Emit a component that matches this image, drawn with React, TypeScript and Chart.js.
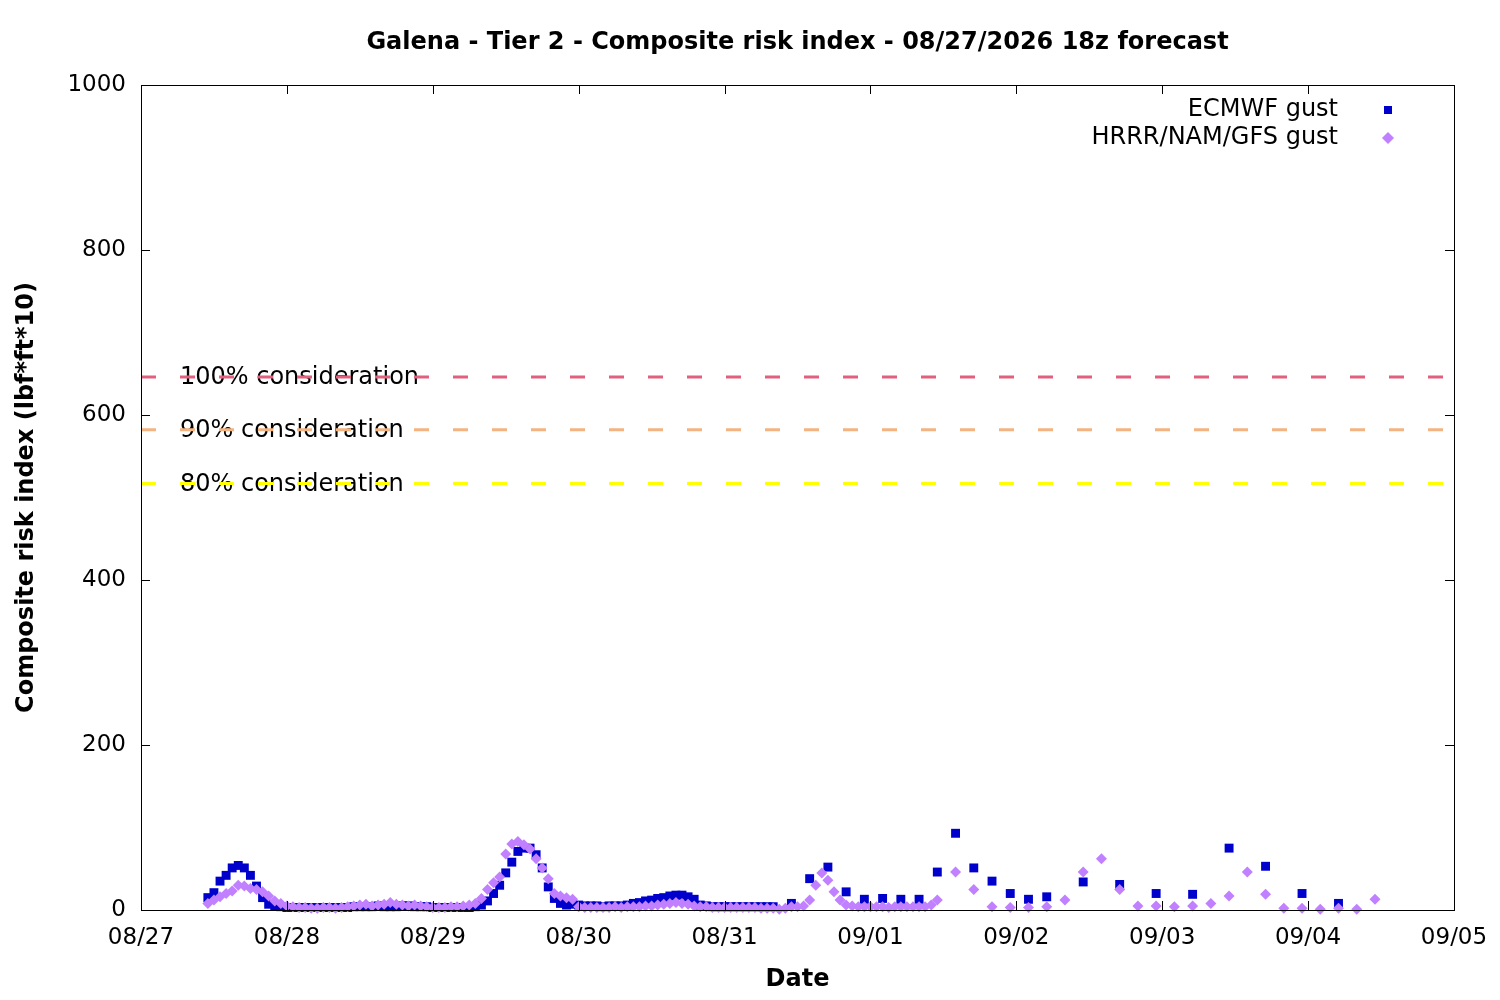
import { useEffect, useRef } from 'react'
import { Chart, registerables } from 'chart.js'

Chart.register(...registerables)

const chartTitle = 'Galena - Tier 2 - Composite risk index - 08/27/2026 18z forecast'
const xTitle = 'Date'
const yTitle = 'Composite risk index (lbf*ft*10)'

// x axis in hours after 08/27 00
const dayLabels = ['08/27', '08/28', '08/29', '08/30', '08/31', '09/01', '09/02', '09/03', '09/04', '09/05']

// ECMWF gust: hourly, then 3-hourly, then 6-hourly
const ecmwfHourlyStart = 11
const ecmwfHourly = [
  15, 21, 35, 42, 51, 54, 51, 42, 29, 15, 7, 5,
  4, 3, 3, 3, 3, 3, 3, 3, 3, 3, 3, 3, 4, 4, 4, 4, 5, 4, 4, 4, 5, 5, 4, 4, 4, 3, 3, 3, 3, 3, 3, 3, 4,
  6, 11, 20, 30, 45, 58, 71, 75, 75, 67, 51, 28, 14, 8, 6, 7, 6, 5,
  5, 5, 4, 5, 5, 5, 6, 8, 9, 11, 12, 14, 15, 17, 18, 18, 16, 13, 6, 5, 4, 4,
  4, 4, 4, 4, 4, 4, 4, 4, 4,
]
const ecmwf3hStart = 107
const ecmwf3h = [8, 38, 52, 22, 13, 14, 13, 13, 46, 93, 51, 35, 20, 13, 16]
const ecmwf6hStart = 155
const ecmwf6h = [34, 31, 20, 19, 75, 53, 20, 8]

// HRRR/NAM/GFS gust: hourly, then 3-hourly
const mesoHourlyStart = 11
const mesoHourly = [
  8, 12, 16, 20, 23, 30, 29, 26, 25, 22, 17, 11, 8, 5, 4,
  3, 3, 2, 2, 3, 3, 2, 3, 4, 5, 6, 7, 5, 6, 7, 9, 7, 6, 5, 6, 5, 4, 3, 3, 3, 4, 4, 5, 6, 8,
  14, 25, 33, 40, 68, 80, 83, 79, 74, 62, 51, 38, 20, 17, 15, 13, 4,
  3, 3, 3, 3, 3, 4, 3, 4, 4, 4, 5, 5, 6, 7, 8, 9, 8, 7, 5, 4, 4, 3, 3, 3, 3, 3, 3, 3, 3, 2, 2, 2,
  1, 2, 4, 4, 5, 12, 30, 45, 36, 22, 12, 6, 5,
  4, 4, 4, 4, 4, 3, 4, 4, 4, 4, 4, 4, 6, 12,
]
const meso3hStart = 134
const meso3h = [46, 25, 4, 3, 3, 4, 12, 46, 62, 25, 5, 5, 4, 5, 8, 17, 46, 19, 2, 2, 1, 2, 1, 13]

const thresholdLabels = ['100% consideration', '90% consideration', '80% consideration']
const thresholdValues = [646, 582, 517]
const thresholdColors = ['#e0607e', '#f4b482', '#ffff00']

const toPoints = (start: number, step: number, values: number[]) =>
  values.map((v, i) => ({ x: start + i * step, y: v }))

const FONT = 'DejaVu Sans'

const framePlugin = {
  id: 'gnuplotFrame',
  beforeDatasetsDraw(chart: any) {
    const { ctx, chartArea, scales } = chart
    ctx.save()
    ctx.fillStyle = '#000'
    ctx.font = `24px ${FONT}`
    ctx.textAlign = 'left'
    ctx.textBaseline = 'middle'
    thresholdLabels.forEach((label, i) => {
      ctx.fillText(label, chartArea.left + 39, scales.y.getPixelForValue(thresholdValues[i]) + 1)
    })
    ctx.restore()
  },
  afterDatasetsDraw(chart: any) {
    const { ctx, chartArea, scales } = chart
    const { left, right, top, bottom } = chartArea
    ctx.save()
    ctx.strokeStyle = '#000'
    ctx.lineWidth = 1
    ctx.strokeRect(left + 0.5, top + 0.5, right - left, bottom - top)
    const tick = 9
    ctx.beginPath()
    scales.x.ticks.forEach((t: any) => {
      const px = Math.round(scales.x.getPixelForValue(t.value)) + 0.5
      ctx.moveTo(px, bottom)
      ctx.lineTo(px, bottom - tick)
      ctx.moveTo(px, top)
      ctx.lineTo(px, top + tick)
    })
    scales.y.ticks.forEach((t: any) => {
      const py = Math.round(scales.y.getPixelForValue(t.value)) + 0.5
      ctx.moveTo(left, py)
      ctx.lineTo(left + tick, py)
      ctx.moveTo(right, py)
      ctx.lineTo(right - tick, py)
    })
    ctx.stroke()

    ctx.fillStyle = '#000'
    ctx.textBaseline = 'middle'
    ctx.textAlign = 'center'
    ctx.font = `bold 24px ${FONT}`
    ctx.fillText(chartTitle, (left + right) / 2, 43)
    ctx.fillText(xTitle, (left + right) / 2, 980)
    ctx.save()
    ctx.translate(27, (top + bottom) / 2)
    ctx.rotate(-Math.PI / 2)
    ctx.fillText(yTitle, 0, 0)
    ctx.restore()

    // legend
    ctx.font = `24px ${FONT}`
    ctx.textAlign = 'right'
    const series = chart.data.datasets.filter((d: any) => d.legendRow !== undefined)
    series.forEach((d: any) => {
      const y = 110 + d.legendRow * 28
      ctx.fillStyle = '#000'
      ctx.fillText(d.label, right - 116, y)
      ctx.fillStyle = d.backgroundColor
      ctx.beginPath()
      if (d.pointStyle === 'rect') {
        ctx.rect(right - 70, y - 4, 8, 8)
      } else {
        ctx.moveTo(right - 66, y - 6)
        ctx.lineTo(right - 60, y)
        ctx.lineTo(right - 66, y + 6)
        ctx.lineTo(right - 72, y)
        ctx.closePath()
      }
      ctx.fill()
    })
    ctx.restore()
  },
}

export default function App() {
  const chartRef = useRef<HTMLCanvasElement>(null)
  const chartInstance = useRef<Chart | null>(null)

  useEffect(() => {
    document.body.style.margin = '0'
    if (!chartRef.current) return
    if (chartInstance.current) {
      chartInstance.current.destroy()
    }
    const ctx = chartRef.current.getContext('2d')
    if (!ctx) return

    Chart.defaults.font.family = FONT

    const thresholdSets = thresholdValues.map((v, i) => ({
      type: 'line' as const,
      label: thresholdLabels[i],
      data: [{ x: 0, y: v }, { x: 216, y: v }],
      borderColor: thresholdColors[i],
      borderWidth: 3,
      borderDash: [15, 24],
      pointRadius: 0,
      fill: false,
      order: 0,
    }))

    chartInstance.current = new Chart(ctx, {
      type: 'scatter',
      data: {
        datasets: [
          ...thresholdSets,
          {
            label: 'HRRR/NAM/GFS gust',
            data: [...toPoints(mesoHourlyStart, 1, mesoHourly), ...toPoints(meso3hStart, 3, meso3h)],
            pointStyle: 'rectRot',
            pointRadius: 5.5,
            pointHoverRadius: 5.5,
            backgroundColor: '#c080ff',
            borderColor: '#c080ff',
            borderWidth: 0,
            clip: false,
            order: 1,
            legendRow: 1,
          } as any,
          {
            label: 'ECMWF gust',
            data: [
              ...toPoints(ecmwfHourlyStart, 1, ecmwfHourly),
              ...toPoints(ecmwf3hStart, 3, ecmwf3h),
              ...toPoints(ecmwf6hStart, 6, ecmwf6h),
            ],
            pointStyle: 'rect',
            pointRadius: 6.3,
            pointHoverRadius: 6.3,
            backgroundColor: '#0000cc',
            borderColor: '#0000cc',
            borderWidth: 0,
            clip: false,
            order: 2,
            legendRow: 0,
          } as any,
        ],
      },
      options: {
        responsive: false,
        animation: false,
        devicePixelRatio: 1,
        layout: { padding: { top: 85, right: 46, left: 0, bottom: 0 } },
        plugins: {
          legend: { display: false },
          title: { display: false },
          tooltip: { enabled: false },
        },
        scales: {
          x: {
            type: 'linear',
            min: 0,
            max: 216,
            grid: { display: false, drawTicks: false },
            border: { display: false },
            ticks: {
              stepSize: 24,
              padding: 14,
              color: '#000',
              font: { size: 23 },
              maxRotation: 0,
              callback: (value: any) => dayLabels[Math.round(Number(value) / 24)],
            },
            afterFit: (scale: any) => {
              scale.height = 90
              scale.paddingLeft = 0
              scale.paddingRight = 0
            },
          },
          y: {
            type: 'linear',
            min: 0,
            max: 1000,
            grid: { display: false, drawTicks: false },
            border: { display: false },
            ticks: {
              stepSize: 200,
              padding: 15,
              color: '#000',
              font: { size: 23 },
              callback: (value: any) => String(value),
            },
            afterFit: (scale: any) => {
              scale.width = 141
              scale.paddingTop = 0
              scale.paddingBottom = 0
            },
          },
        },
      },
      plugins: [framePlugin],
    })

    return () => {
      if (chartInstance.current) {
        chartInstance.current.destroy()
        chartInstance.current = null
      }
    }
  }, [])

  return (
    <div style={{ width: 1500, height: 1000 }}>
      <canvas ref={chartRef} width={1500} height={1000} />
    </div>
  )
}
